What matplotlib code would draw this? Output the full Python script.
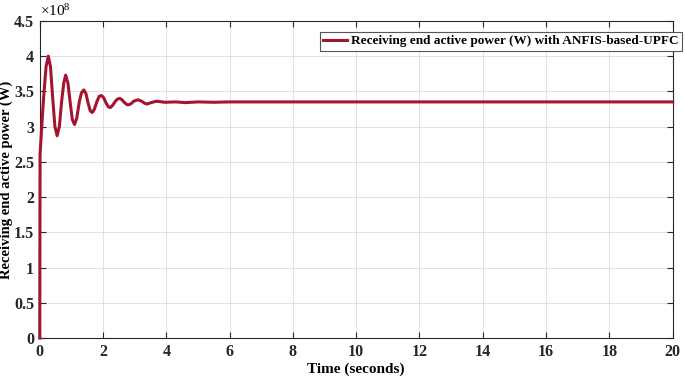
import matplotlib.pyplot as plt

# Receiving end active power (in units of 1e8 W)
time_s = [0, 0.01, 0.05, 0.12, 0.2, 0.27, 0.34, 0.41, 0.48, 0.55, 0.62, 0.69, 0.76, 0.82,
          0.89, 0.96, 1.03, 1.1, 1.17, 1.25, 1.32, 1.39, 1.46, 1.53, 1.60, 1.66, 1.73,
          1.81, 1.88, 1.95, 2.02, 2.10, 2.17, 2.23, 2.30, 2.39, 2.46, 2.53, 2.60, 2.68,
          2.76, 2.82, 2.90, 2.97, 3.10, 3.22, 3.32, 3.39, 3.52, 3.69, 3.95, 4.3, 4.6,
          5.0, 5.5, 6.0, 20.0]
power_1e8 = [0, 2.6, 2.9, 3.4, 3.85, 4.0, 3.85, 3.4, 3.0, 2.87, 3.0, 3.35, 3.62, 3.73,
             3.62, 3.35, 3.1, 3.03, 3.12, 3.35, 3.48, 3.52, 3.47, 3.33, 3.22, 3.2, 3.25,
             3.36, 3.43, 3.44, 3.41, 3.33, 3.28, 3.27, 3.3, 3.36, 3.39, 3.40, 3.38, 3.34,
             3.31, 3.31, 3.33, 3.36, 3.38, 3.36, 3.33, 3.32, 3.34, 3.36, 3.345, 3.35, 3.34,
             3.35, 3.345, 3.35, 3.35]

x_ticks = list(range(0, 21, 2))
y_ticks = [0, 0.5, 1, 1.5, 2, 2.5, 3, 3.5, 4, 4.5]

plt.rcParams['font.family'] = 'Liberation Serif'
plt.rcParams['font.weight'] = 'bold'
plt.rcParams['mathtext.default'] = 'regular'

fig = plt.figure(figsize=(6.85, 3.79), dpi=100)
ax = fig.add_axes([0.058, 0.108, 0.924, 0.837])

ax.plot(time_s, power_1e8, color='#A2142F', linewidth=2.2, zorder=5, clip_on=False,
        label='Receiving end active power (W) with ANFIS-based-UPFC')

ax.set_xlim(0, 20)
ax.set_ylim(0, 4.5)
ax.set_xticks(x_ticks)
ax.set_yticks(y_ticks)
ax.set_yticklabels(['%g' % v for v in y_ticks])
ax.tick_params(direction='in', top=True, right=True, labelsize=11.5, length=4, width=0.8,
               colors='#262626', pad=4)
for lab in ax.get_xticklabels() + ax.get_yticklabels():
    lab.set_fontweight('bold')
ax.grid(True, color='#dcdcdc', linewidth=0.6)
for s in ax.spines.values():
    s.set_color('#262626')
    s.set_linewidth(0.8)

ax.set_xlabel('Time (seconds)', fontsize=11, fontweight='bold', labelpad=2)
ax.set_ylabel('Receiving end active power (W)', fontsize=10.5, fontweight='bold')
ax.yaxis.set_label_coords(-0.043, 0.5)
ax.text(0.0, 1.005, '\u00d710$^{8}$', transform=ax.transAxes,
        fontsize=11, fontweight='normal', ha='left', va='bottom')

leg = ax.legend(loc='upper right', bbox_to_anchor=(1.014, 0.965), fontsize=9.5,
                fancybox=False, framealpha=1, edgecolor='#555555', handlelength=1.8,
                handletextpad=0.3, borderpad=0.25, borderaxespad=0)
leg.get_frame().set_linewidth(0.8)

fig.savefig('out.png', dpi=100)
